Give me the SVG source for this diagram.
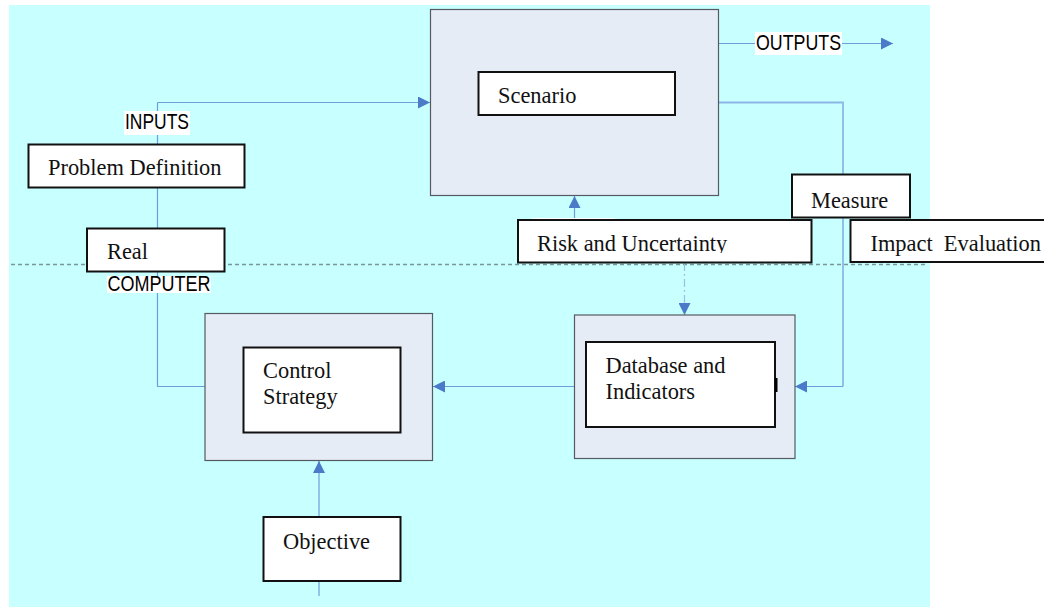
<svg xmlns="http://www.w3.org/2000/svg" width="1044" height="610" viewBox="0 0 1044 610">
  <style>
    .panel { fill: #E6ECF6; stroke: #555A62; stroke-width: 1.2; }
    .box { fill: #FFFFFF; stroke: #111111; stroke-width: 2; }
    .lbl { font-family: "Liberation Serif", "Times New Roman", serif; font-size: 22.4px; fill: #111111; }
    .tag { font-family: "Liberation Sans", Arial, sans-serif; font-size: 21.5px; fill: #000000; }
    .tagbg { fill: #FFFFFF; }
    .wire { fill: none; stroke: #6E9EDB; stroke-width: 1.2; }
    .arrow { fill: none; stroke: #6E9EDB; stroke-width: 1.2; marker-end: url(#head); }
  </style>
  <defs>
    <marker id="head" viewBox="0 0 12 12" refX="12" refY="6" markerWidth="12" markerHeight="12" markerUnits="userSpaceOnUse" orient="auto">
      <path d="M0,0 L12,6 L0,12 Z" fill="#4A7AC8"/>
    </marker>
    <clipPath id="riskClip">
      <rect x="518" y="220" width="294" height="33"/>
    </clipPath>
  </defs>

  <!-- background field -->
  <rect x="9" y="5" width="921" height="602" fill="#C8FFFF"/>

  <!-- real / computer boundary -->
  <line x1="11" y1="264.5" x2="926" y2="264.5" stroke="#7A9698" stroke-width="1.3" stroke-dasharray="4,3"/>

  <!-- connectors -->
  <g id="connectors">
    <!-- inputs: loop from control strategy up to scenario -->
    <polyline class="wire" points="205,386.5 157.5,386.5 157.5,102.5"/>
    <line class="arrow" x1="157.5" y1="102.5" x2="430" y2="102.5"/>
    <!-- outputs -->
    <line class="arrow" x1="718" y1="43.5" x2="893" y2="43.5"/>
    <!-- scenario to database via measure -->
    <polyline class="wire" points="718,102.5 843,102.5 843,386.5" style="stroke:#8DB8E6;stroke-width:1.8"/>
    <line class="arrow" x1="843" y1="386.5" x2="795" y2="386.5"/>
    <!-- risk into scenario -->
    <line class="arrow" x1="574.5" y1="220" x2="574.5" y2="196"/>
    <!-- risk down to database -->
    <line class="arrow" x1="684.5" y1="263" x2="684.5" y2="315" style="stroke:#9BBFE8;stroke-dasharray:8,3,2,3"/>
    <!-- database to control strategy -->
    <line class="arrow" x1="574" y1="386.5" x2="433" y2="386.5"/>
    <!-- objective into control strategy -->
    <line class="arrow" x1="319" y1="517" x2="319" y2="461"/>
    <line class="wire" x1="319" y1="581" x2="319" y2="596"/>
  </g>

  <g id="inputs-label">
    <rect class="tagbg" x="124" y="111" width="66" height="24"/>
    <text class="tag" x="125" y="129" textLength="64" lengthAdjust="spacingAndGlyphs">INPUTS</text>
  </g>

  <g id="computer-label">
    <rect class="tagbg" x="107" y="276" width="104" height="17"/>
    <text class="tag" x="107.5" y="291" textLength="103" lengthAdjust="spacingAndGlyphs">COMPUTER</text>
  </g>

  <g id="outputs-label">
    <rect class="tagbg" x="755" y="32" width="87" height="23"/>
    <text class="tag" x="756" y="50" textLength="85" lengthAdjust="spacingAndGlyphs">OUTPUTS</text>
  </g>

  <g id="scenario">
    <rect class="panel" x="430.5" y="9.5" width="288" height="186"/>
    <rect class="box" x="478.5" y="72" width="196.5" height="43"/>
    <text class="lbl" x="498" y="103">Scenario</text>
  </g>

  <g id="problem-definition">
    <rect class="box" x="28.5" y="144.5" width="216" height="43"/>
    <text class="lbl" x="48" y="175">Problem Definition</text>
  </g>

  <g id="real">
    <rect class="box" x="87" y="228.5" width="137.5" height="43"/>
    <text class="lbl" x="107" y="259">Real</text>
  </g>

  <g id="measure">
    <rect class="box" x="792" y="174.5" width="118" height="43"/>
    <text class="lbl" x="811" y="208">Measure</text>
  </g>

  <g id="risk-and-uncertainty">
    <rect x="532" y="218" width="83" height="2" fill="#FFFFFF"/>
    <rect class="box" x="518" y="220" width="293.5" height="42.5"/>
    <text class="lbl" x="537" y="251" clip-path="url(#riskClip)">Risk and Uncertainty</text>
  </g>

  <g id="impact-evaluation">
    <rect class="box" x="850.5" y="220" width="200" height="42"/>
    <text class="lbl" x="870.5" y="251" xml:space="preserve">Impact  Evaluation</text>
  </g>

  <g id="database-and-indicators">
    <rect class="panel" x="574.5" y="315" width="220.5" height="143.5"/>
    <rect class="box" x="586" y="342" width="189" height="85"/>
    <rect x="775" y="378" width="2.5" height="14" fill="#000000"/>
    <text class="lbl" x="605.5" y="373">Database and</text>
    <text class="lbl" x="605.5" y="398.5">Indicators</text>
  </g>

  <g id="control-strategy">
    <rect class="panel" x="205" y="313.5" width="227.5" height="147"/>
    <rect class="box" x="243.5" y="347.5" width="157" height="85"/>
    <text class="lbl" x="263" y="378">Control</text>
    <text class="lbl" x="263" y="403.5">Strategy</text>
  </g>

  <g id="objective">
    <rect class="box" x="263.5" y="517" width="137" height="64"/>
    <text class="lbl" x="283" y="548.5">Objective</text>
  </g>
</svg>
